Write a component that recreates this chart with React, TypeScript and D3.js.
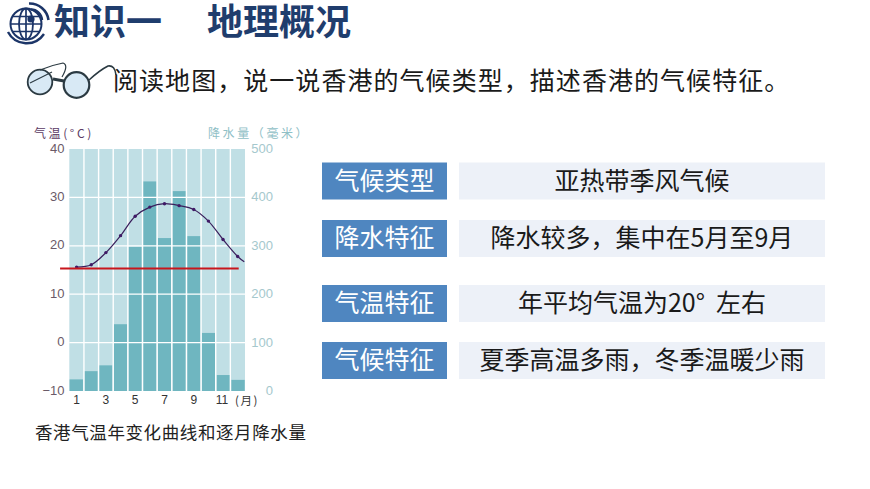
import React from "react";
import * as d3 from "d3";

const months = [1, 2, 3, 4, 5, 6, 7, 8, 9, 10, 11, 12];
const precipitation = [24, 41, 53, 138, 298, 433, 316, 413, 320, 120, 33, 23];
const temperature = [15.6, 16.1, 18.6, 22.1, 26.1, 28.0, 28.7, 28.3, 27.5, 25.1, 21.3, 17.8];
const curveEndMonth = 12.45;
const curveEndTemp = 16.7;
const redLineTemp = 15.3;
const redLineMonths = [-0.13, 12.07];
const tempTicks = [-10, 0, 10, 20, 30, 40];
const precipTicks = [0, 100, 200, 300, 400, 500];
const monthLabels = [1, 3, 5, 7, 9, 11];
const infoLabels = ["气候类型", "降水特征", "气温特征", "气候特征"];
const infoTexts = ["亚热带季风气候", "降水较多，集中在5月至9月", "年平均气温为20°\u00a0\u00a0左右", "夏季高温多雨，冬季温暖少雨"];
const infoRowTops = [162.5, 220, 285, 342];

const CJK = '"Noto Sans CJK SC", "Noto Sans", sans-serif';
const LATIN = '"Liberation Sans", sans-serif';

const plot = { left: 69.3, right: 245, top: 149, bottom: 391 };

export default function App() {
  const x = d3.scaleBand<number>().domain(months).range([plot.left, plot.right]).paddingInner(0.09).paddingOuter(0.02);
  const mx = d3.scaleLinear().domain([0.5, 12.5]).range([plot.left, plot.right]);
  const yT = d3.scaleLinear().domain([-10, 40]).range([plot.bottom, plot.top]);
  const yP = d3.scaleLinear().domain([0, 500]).range([plot.bottom, plot.top]);
  const line = d3.line<[number, number]>().x((d) => mx(d[0])).y((d) => yT(d[1])).curve(d3.curveCatmullRom.alpha(0.5));
  const curvePts: [number, number][] = [...months.map((m, i) => [m, temperature[i]] as [number, number]), [curveEndMonth, curveEndTemp]];

  return (
    <svg width={870} height={489} style={{ position: "absolute", left: 0, top: 0, background: "#fff", fontFamily: CJK }}>
      {/* globe icon */}
      <g fill="none" stroke="#1c3568">
        <circle cx={26} cy={24} r={15.5} strokeWidth={2} />
        <ellipse cx={26} cy={24} rx={7} ry={15.5} strokeWidth={1.8} />
        <path d="M10.5 24H41.5M13 16.5H39M13 31.5H39M26 8.5V39.5" strokeWidth={1.7} />
        <path d="M29 3.5A19 19 0 0 1 48.5 20" strokeWidth={2.6} />
        <path d="M31 9.5A11 11 0 0 1 42 20" strokeWidth={2.4} />
        <path d="M8 32A21 21 0 0 0 44 34" strokeWidth={2.4} />
        <circle cx={31} cy={19} r={3.6} fill="#1c3568" stroke="none" />
      </g>
      <text x={54} y={35} fontSize={36} fontWeight={700} fill="#1f3d6d">知识一</text>
      <text x={207} y={35} fontSize={36} fontWeight={700} fill="#1f3d6d">地理概况</text>

      {/* glasses icon */}
      <g stroke="#2b3a42" fill="#d8e9f5">
        <circle cx={40} cy={82} r={12.3} strokeWidth={1.8} />
        <circle cx={76.5} cy={85} r={12.8} strokeWidth={2.2} />
        <path d="M53 79L64 81" fill="none" strokeWidth={3} />
        <path d="M30 83L52 72" fill="none" strokeWidth={1.2} />
        <path d="M89 80Q100 70 108 66Q115 65 116 75" fill="none" strokeWidth={1.6} />
        <path d="M40 70Q52 65 63 63Q69 65 62 77" fill="none" strokeWidth={1.2} />
      </g>
      <text x={113} y={90} fontSize={25} letterSpacing={1.05} fill="#1a1a1a">阅读地图，说一说香港的气候类型，描述香港的气候特征。</text>

      {/* chart */}
      <rect x={plot.left} y={plot.top} width={plot.right - plot.left} height={plot.bottom - plot.top} fill="#c0dfe5" />
      {precipitation.map((p, i) => (
        <rect key={i} x={x(months[i])} y={yP(p)} width={x.bandwidth()} height={yP(0) - yP(p)} fill="#6fb6c0" />
      ))}
      {months.slice(0, -1).map((m) => (
        <line key={m} x1={mx(m + 0.5)} x2={mx(m + 0.5)} y1={plot.top} y2={plot.bottom} stroke="#fff" strokeWidth={1.4} />
      ))}
      {tempTicks.slice(1, -1).map((t) => (
        <line key={t} x1={plot.left} x2={plot.right} y1={yT(t)} y2={yT(t)} stroke="#fff" strokeWidth={1.2} />
      ))}
      <path d={line(curvePts) ?? ""} fill="none" stroke="#3a1f5c" strokeWidth={1.2} />
      {months.map((m, i) => (
        <circle key={m} cx={mx(m)} cy={yT(temperature[i])} r={1.7} fill="#3f1a66" />
      ))}
      <line x1={mx(redLineMonths[0])} x2={mx(redLineMonths[1])} y1={yT(redLineTemp)} y2={yT(redLineTemp)} stroke="#c8161d" strokeWidth={2} />

      {tempTicks.map((t) => (
        <text key={t} x={64.5} y={yT(t) + 3.5} textAnchor="end" fontSize={13} fontFamily={LATIN} fill="#6b5a68">{t === -10 ? "−10" : t}</text>
      ))}
      {precipTicks.map((t) => (
        <text key={t} x={273} y={yP(t) + 4} textAnchor="end" fontSize={13} fontFamily={LATIN} fill="#a5c8cd">{t}</text>
      ))}
      {monthLabels.map((m) => (
        <text key={m} x={mx(m) + (m === 11 ? -1 : 0)} y={404} textAnchor="middle" fontSize={12} fontFamily={LATIN} fill="#333">{m}</text>
      ))}
      <text x={235} y={405} fontSize={11.5} letterSpacing={1.5} fill="#333">(月)</text>
      <text x={34} y={137.5} fontSize={12} letterSpacing={2.6} fill="#5b3a63">气温(°C)</text>
      <text x={208} y={137.5} fontSize={12} letterSpacing={2.6} fill="#8fc0c6">降水量（毫米）</text>
      <text x={35} y={439} fontSize={17.5} letterSpacing={0.6} fill="#222">香港气温年变化曲线和逐月降水量</text>

      {/* info rows */}
      {infoLabels.map((label, i) => (
        <g key={label}>
          <rect x={322} y={infoRowTops[i]} width={125} height={37} fill="#4f86c0" />
          <rect x={459} y={infoRowTops[i]} width={366} height={37} fill="#edf1f8" />
          <text x={384.5} y={infoRowTops[i] + 27} textAnchor="middle" fontSize={25} fill="#fff">{label}</text>
          <text x={642} y={infoRowTops[i] + 27} textAnchor="middle" fontSize={25} fill="#1a1a1a">{infoTexts[i]}</text>
        </g>
      ))}
    </svg>
  );
}
